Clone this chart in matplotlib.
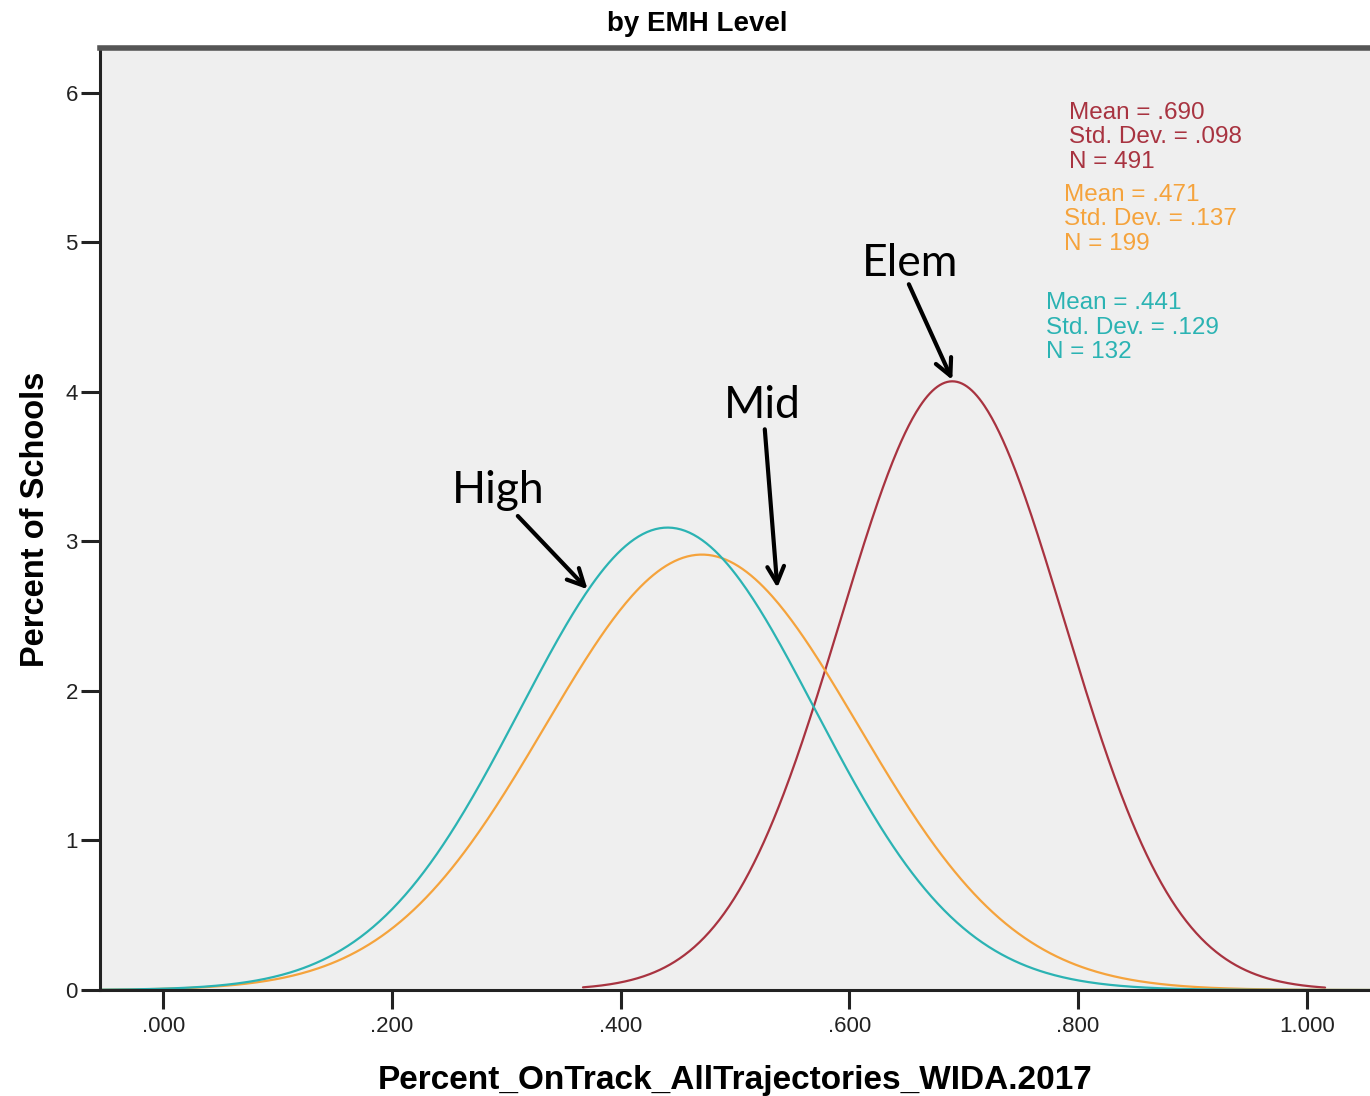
import numpy as np
import matplotlib
matplotlib.use('Agg')
import matplotlib.pyplot as plt

# fitted normal curves per EMH level (values as printed on the chart)
levels = ['Elem', 'Mid', 'High']
means = [0.690, 0.471, 0.441]
sds = [0.098, 0.137, 0.129]
ns = [491, 199, 132]
colors = ['#a83340', '#f5a33c', '#2bb3b3']
# x range over which each curve is drawn
x_from = [0.367, -0.056, -0.056]
x_to = [1.016, 1.056, 1.056]

xticks = [0.0, 0.2, 0.4, 0.6, 0.8, 1.0]
xticklabels = ['.000', '.200', '.400', '.600', '.800', '1.000']
yticks = [0, 1, 2, 3, 4, 5, 6]

# arrow labels: text position, arrow tail, arrow tip (data coords)
label_text = ['High', 'Mid', 'Elem']
label_pos = [(0.293, 3.34), (0.524, 3.91), (0.653, 4.86)]
arrow_tail = [(0.310, 3.17), (0.526, 3.75), (0.652, 4.72)]
arrow_tip = [(0.371, 2.68), (0.537, 2.69), (0.690, 4.08)]

# stats text blocks (axes fraction)
stat_pos = [(0.763, 0.943), (0.759, 0.856), (0.745, 0.741)]

fig = plt.figure(figsize=(13.7, 10.96), dpi=100)
ax = fig.add_axes([100 / 1370, 106 / 1096, 1 - 100 / 1370, (990 - 48) / 1096])
ax.set_facecolor('#efefef')

for m, s, c, a, b in zip(means, sds, colors, x_from, x_to):
    x = np.linspace(a, b, 600)
    y = np.exp(-0.5 * ((x - m) / s) ** 2) / (s * np.sqrt(2 * np.pi))
    ax.plot(x, y, color=c, lw=1.6, solid_capstyle='round')

ax.set_xlim(-0.0554, 1.0553)
ax.set_ylim(0, 6.30)
ax.set_xticks(xticks)
ax.set_xticklabels(xticklabels)
ax.set_yticks(yticks)
ax.tick_params(axis='both', length=14, width=2.2, color='#222222',
               labelsize=16, labelcolor='#222222')
ax.tick_params(axis='x', pad=5)
ax.tick_params(axis='y', pad=2)
for lab in ax.get_xticklabels() + ax.get_yticklabels():
    lab.set_family('Liberation Sans')

ax.spines['right'].set_visible(False)
ax.spines['left'].set_linewidth(2.2)
ax.spines['left'].set_color('#222222')
ax.spines['bottom'].set_linewidth(2.2)
ax.spines['bottom'].set_color('#222222')
ax.spines['top'].set_linewidth(4)
ax.spines['top'].set_color('#555555')

ax.set_xlabel('Percent_OnTrack_AllTrajectories_WIDA.2017', fontsize=24,
              fontweight='bold', family='Liberation Sans', labelpad=20)
ax.set_ylabel('Percent of Schools', fontsize=23.5, fontweight='bold',
              family='Liberation Sans', labelpad=10)
fig.text(697 / 1370, 1 - 24 / 1096, 'by EMH Level', ha='center', va='center',
         fontsize=20, fontweight='bold', family='Liberation Sans')

for t, p, tail, tip in zip(label_text, label_pos, arrow_tail, arrow_tip):
    ax.text(p[0], p[1], t, ha='center', va='center', fontsize=32,
            family='Lato', color='black')
    ax.annotate('', xy=tip, xytext=tail,
                arrowprops=dict(arrowstyle='->,head_length=1.2,head_width=0.6',
                                lw=3, color='black', shrinkA=0, shrinkB=0))

for m, s, n, c, p in zip(means, sds, ns, colors, stat_pos):
    txt = 'Mean = %s\nStd. Dev. = %s\nN = %d' % (
        ('%.3f' % m).lstrip('0'), ('%.3f' % s).lstrip('0'), n)
    ax.text(p[0], p[1], txt, transform=ax.transAxes, ha='left', va='top',
            fontsize=17.5, color=c, family='Liberation Sans', linespacing=1.15)

fig.savefig('out.png', dpi=100)
